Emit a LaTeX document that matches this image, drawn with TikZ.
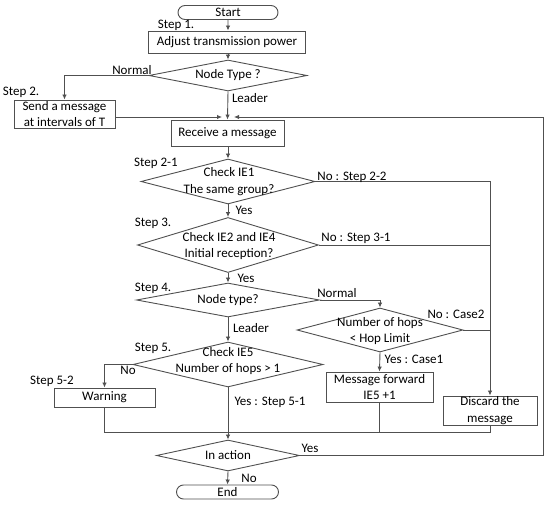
\documentclass[tikz,border=0pt]{standalone}
\usepackage{fontspec}
\setmainfont{Carlito}
\usetikzlibrary{arrows.meta,shapes.geometric,shapes.misc}
\definecolor{ln}{HTML}{505050}
\begin{document}
\begin{tikzpicture}[x=1pt,y=-1pt,
  font=\fontsize{13}{16.5}\selectfont,
  box/.style={draw=ln,line width=0.9pt,rectangle,inner sep=0pt,align=center},
  dia/.style={draw=ln,line width=0.9pt,diamond,inner sep=0pt},
  term/.style={draw=ln,line width=0.9pt,rounded rectangle,inner sep=0pt},
  txt/.style={inner sep=0pt,align=center},
  lbl/.style={inner sep=0pt},
  ln/.style={draw=ln,line width=0.9pt},
  arr/.style={draw=ln,line width=0.9pt,-{Latex[length=5pt,width=4.5pt]}}]
\useasboundingbox (0,0) rectangle (550,505);
% nodes
\node[term,minimum width=100,minimum height=14] (start) at (228,12.5) {Start};
\node[box,minimum width=157,minimum height=22] (s1) at (227,42) {Adjust transmission power};
\node[dia,minimum width=158,minimum height=31] (nt) at (228,75.5) {};
\node[txt] at (nt) {Node Type ?};
\node[box,minimum width=101,minimum height=28] (send) at (64.5,114) {Send a message\\at intervals of T};
\node[box,minimum width=113,minimum height=26] (recv) at (227.5,133) {Receive a message};
\node[dia,minimum width=174,minimum height=45] (d1) at (228,181.5) {};
\node[txt] at (229,181.5) {Check IE1\\The same group?};
\node[dia,minimum width=181,minimum height=55] (d2) at (228,245) {};
\node[txt] at (229,246) {Check IE2 and IE4\\Initial reception?};
\node[dia,minimum width=183,minimum height=34] (d3) at (228,300) {};
\node[txt] at (d3) {Node type?};
\node[dia,minimum width=166,minimum height=44] (hop) at (380,330) {};
\node[txt] at (380,331) {Number of hops\\{<} Hop Limit};
\node[box,minimum width=107,minimum height=30] (fwd) at (379.5,387) {Message forward\\IE5 +1};
\node[box,minimum width=94,minimum height=29] (disc) at (490,410.5) {Discard the\\message};
\node[dia,minimum width=190,minimum height=45] (d4) at (228,364.5) {};
\node[txt] at (228,361) {Check IE5\\Number of hops {>} 1};
\node[box,minimum width=101,minimum height=19] (warn) at (104.5,397.5) {Warning};
\node[dia,minimum width=143,minimum height=31] (act) at (228,455.5) {};
\node[txt] at (act) {In action};
\node[term,minimum width=102,minimum height=14] (end) at (227.5,492) {End};
% coordinates
\coordinate (jl) at (222,117);
\coordinate (jr) at (234,117);
\coordinate (m) at (490,432);
% connectors
\draw[arr] (start) -- (start |- s1.north);
\draw[arr] (s1.south -| nt) -- (nt.north);
\draw[arr] (nt.west) -| (send.north);
\draw[arr] (nt.south) -- (recv.north);
\draw[arr] (send.east |- jl) -- (jl);
\draw[arr] (act.east) -| (543,117) -- (jr);
\draw[arr] (recv.south -| d1) -- (d1.north);
\draw[arr] (d1.south) -- (d2.north);
\draw[arr] (d2.south) -- (d3.north);
\draw[arr] (d3.south) -- (d4.north);
\draw[arr] (d1.east) -| (disc.north);
\draw[ln] (d2.east) -- (d2.east -| disc);
\draw[ln] (hop.east) -- (hop.east -| disc);
\draw[arr] (d3.east) -| (hop.north);
\draw[arr] (hop.south) -- (fwd.north);
\draw[arr] (d4.west) -| (warn.north);
\draw[arr] (d4.south) -- (act.north);
\draw[ln] (warn.south) |- (m) -- (disc.south);
\draw[ln] (fwd.south) -- (fwd.south |- m);
\draw[arr] (act.south) -- (end.north);
% labels
\node[lbl] at (176,25) {Step 1.};
\node[lbl] at (132,70) {Normal};
\node[lbl] at (21,92) {Step 2.};
\node[lbl] at (250,98) {Leader};
\node[lbl] at (156,163) {Step 2-1};
\node[lbl] at (352,177) {No : Step 2-2};
\node[lbl] at (244,210) {Yes};
\node[lbl] at (153,223) {Step 3.};
\node[lbl] at (356,238) {No : Step 3-1};
\node[lbl] at (246,278) {Yes};
\node[lbl] at (153,288) {Step 4.};
\node[lbl] at (337,293) {Normal};
\node[lbl] at (456,314) {No : Case2};
\node[lbl] at (251,328) {Leader};
\node[lbl] at (153,348) {Step 5.};
\node[lbl] at (128,370) {No};
\node[lbl] at (52,381) {Step 5-2};
\node[lbl] at (414,359) {Yes : Case1};
\node[lbl] at (270,402) {Yes : Step 5-1};
\node[lbl] at (310,448) {Yes};
\node[lbl] at (249,478) {No};
\end{tikzpicture}
\end{document}
